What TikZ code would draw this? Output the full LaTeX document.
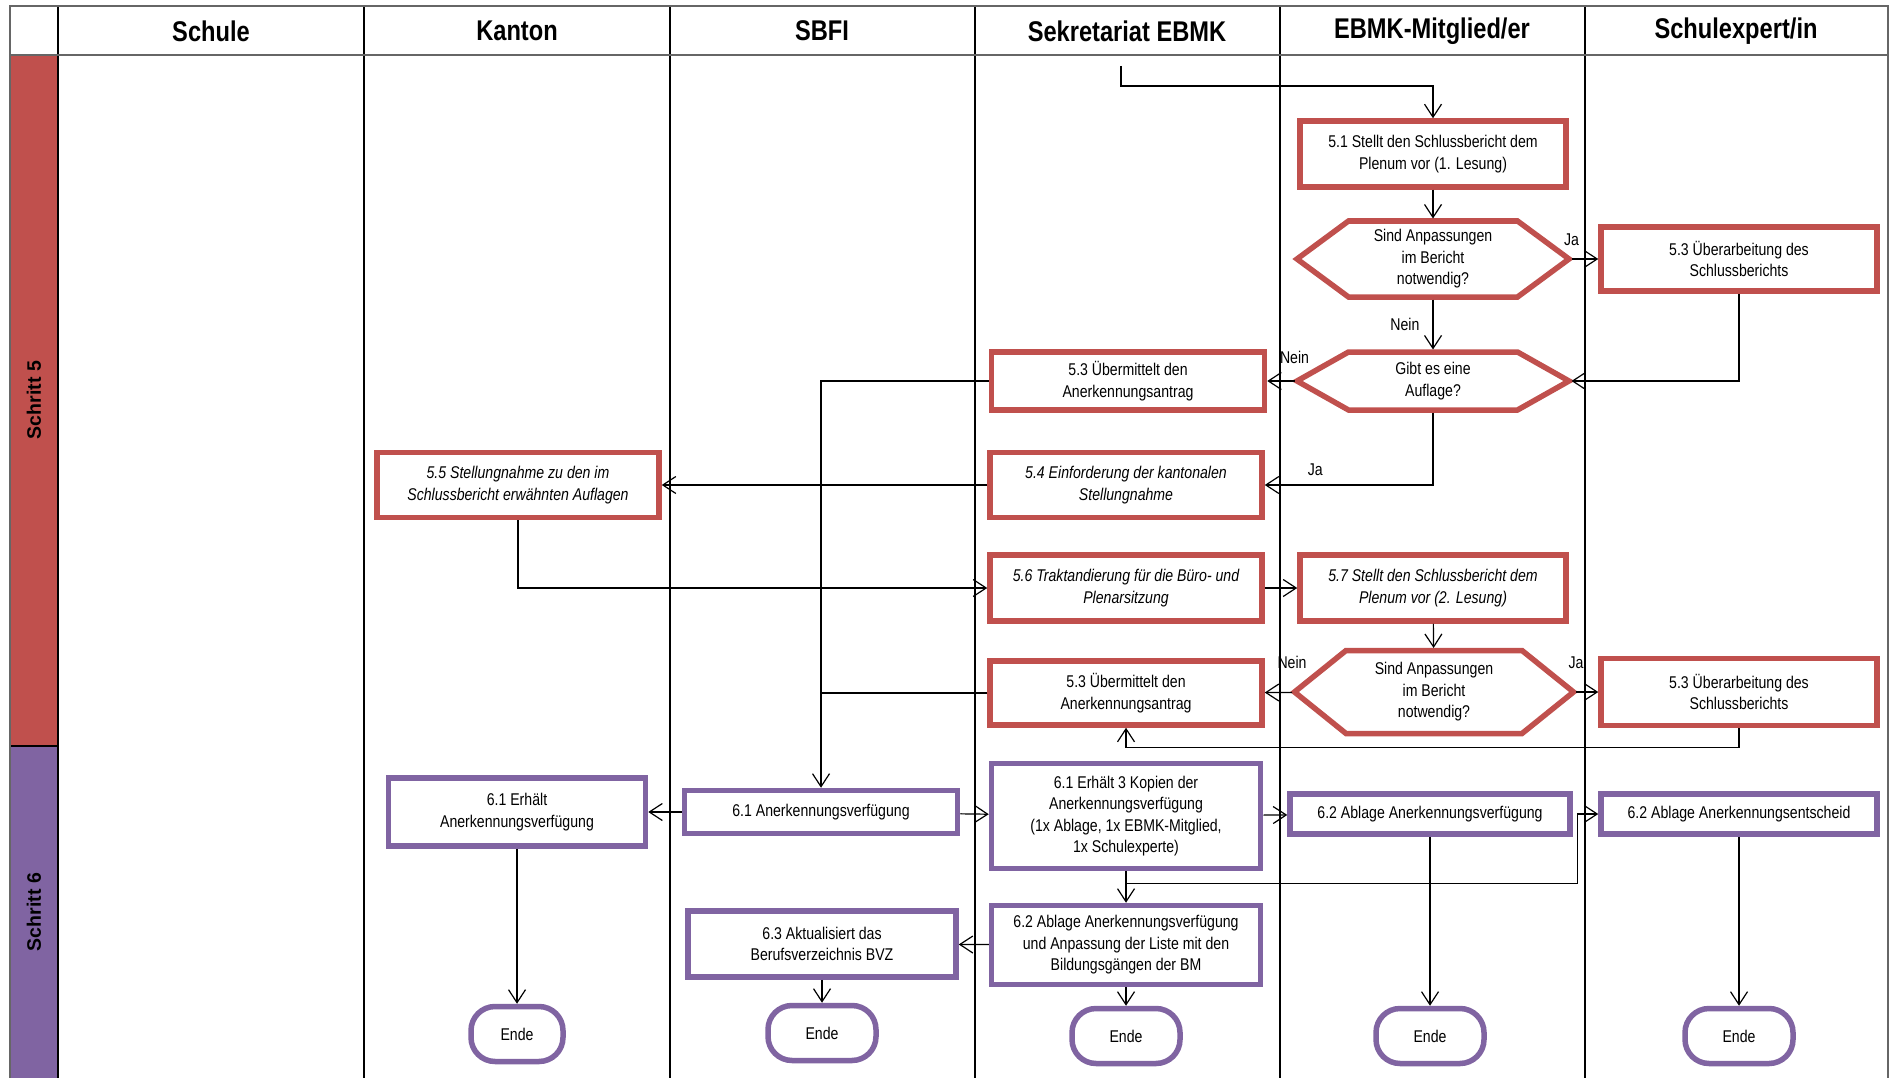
\documentclass[tikz,border=0pt]{standalone}
\usepackage{fontspec}
\setmainfont{Liberation Sans}[FakeStretch=0.83]
\newfontfamily\bandfont{Liberation Sans}
\usetikzlibrary{arrows.meta}
\definecolor{stepred}{HTML}{C0504D}
\definecolor{steppurple}{HTML}{8064A2}

\begin{document}
\begin{tikzpicture}
        [
        x=1pt, y=-1pt,
        every node/.style={font=\fontsize{17}{21.5}\selectfont},
        box/.style={rectangle,line width=5.5pt,fill=white,align=center,inner sep=2pt},
        redbox/.style={box,draw=stepred},
        purplebox/.style={box,draw=steppurple},
        ital/.style={font=\fontsize{17}{21.5}\selectfont\itshape},
        decision/.style={rectangle,align=center,inner sep=0pt,outer sep=0pt},
        hexline/.style={draw=stepred,line width=5.5pt},
        ende/.style={box,draw=steppurple,rounded corners=24pt,minimum height=55pt},
        edge/.style={-{Straight Barb[length=13pt,width=17pt]},line width=1.2pt},
        link/.style={line width=1.2pt},
        lbl/.style={font=\fontsize{17}{20}\selectfont,inner sep=1pt},
        head/.style={font=\fontsize{28.5}{30}\selectfont\bfseries},
        band/.style={font=\bandfont\fontsize{19.5}{22}\selectfont\bfseries,rotate=90}
        ]
    \useasboundingbox (0,0) rectangle (1892,1078);
    \fill[stepred] (10,55) rectangle (58,746);
    \fill[steppurple] (10,746) rectangle (58,1082);
    \foreach \x in {58,364,670,975,1280,1585}
        \draw[line width=1.2pt] (\x,6) -- (\x,1082);
    \draw[line width=1.2pt] (10,746) -- (58,746);
    \draw[line width=2.5pt,black!60] (10,55) -- (1888,55);
    \draw[line width=2.5pt,black!60] (10,6) rectangle (1888,1082);

    \node[head] (h1) at (211,31) {Schule};
    \node[head] (h2) at (517,31) {Kanton};
    \node[head] (h3) at (822,31) {SBFI};
    \node[head] (h4) at (1127,31) {Sekretariat EBMK};
    \node[head] (h5) at (1432,31) {EBMK-Mitglied/er};
    \node[head] (h6) at (1736,31) {Schulexpert/in};
    \node[band] (b5) at (34,400) {Schritt 5};
    \node[band] (b6) at (34,912) {Schritt 6};

    \coordinate (start) at (1121,66);
    \node[redbox,minimum width=266pt,minimum height=66pt] (s51) at (1433,154) {5.1 Stellt den Schlussbericht dem\\Plenum vor (1. Lesung)};
    \node[decision,minimum width=277pt,minimum height=81pt] (d1) at (1433,259) {Sind Anpassungen\\im Bericht\\notwendig?};
    \node[redbox,minimum width=276pt,minimum height=64pt] (ub1) at (1739,259) {5.3 Überarbeitung des\\Schlussberichts};
    \node[decision,minimum width=277pt,minimum height=63pt] (d2) at (1433,381) {Gibt es eine\\Auflage?};
    \node[redbox,minimum width=273pt,minimum height=58pt] (um1) at (1128,381) {5.3 Übermittelt den\\Anerkennungsantrag};
    \node[redbox,ital,minimum width=272pt,minimum height=65pt] (s54) at (1126,485) {5.4 Einforderung der kantonalen\\Stellungnahme};
    \node[redbox,ital,minimum width=282pt,minimum height=65pt] (s55) at (518,485) {5.5 Stellungnahme zu den im\\Schlussbericht erwähnten Auflagen};
    \node[redbox,ital,minimum width=272pt,minimum height=66pt] (s56) at (1126,588) {5.6 Traktandierung für die Büro- und\\Plenarsitzung};
    \node[redbox,ital,minimum width=266pt,minimum height=66pt] (s57) at (1433,588) {5.7 Stellt den Schlussbericht dem\\Plenum vor (2. Lesung)};
    \node[decision,minimum width=284pt,minimum height=88pt] (d3) at (1434,692) {Sind Anpassungen\\im Bericht\\notwendig?};
    \node[redbox,minimum width=272pt,minimum height=64pt] (um2) at (1126,693) {5.3 Übermittelt den\\Anerkennungsantrag};
    \node[redbox,minimum width=276pt,minimum height=67pt] (ub2) at (1739,692) {5.3 Überarbeitung des\\Schlussberichts};

    \node[purplebox,minimum width=257pt,minimum height=68pt] (k61) at (517,812) {6.1 Erhält\\Anerkennungsverfügung};
    \node[purplebox,minimum width=273pt,minimum height=43pt] (v61) at (821,812) {6.1 Anerkennungsverfügung};
    \node[purplebox,minimum width=269pt,minimum height=105pt] (e61) at (1126,816) {6.1 Erhält 3 Kopien der\\Anerkennungsverfügung\\(1x Ablage, 1x EBMK-Mitglied,\\1x Schulexperte)};
    \node[purplebox,minimum width=280pt,minimum height=40pt] (a62) at (1430,814) {6.2 Ablage Anerkennungsverfügung};
    \node[purplebox,minimum width=276pt,minimum height=40pt] (x62) at (1739,814) {6.2 Ablage Anerkennungsentscheid};
    \node[purplebox,minimum width=268pt,minimum height=66pt] (b63) at (822,944) {6.3 Aktualisiert das\\Berufsverzeichnis BVZ};
    \node[purplebox,minimum width=269pt,minimum height=79pt] (s62) at (1126,945) {6.2 Ablage Anerkennungsverfügung\\und Anpassung der Liste mit den\\Bildungsgängen der BM};
    \node[ende,minimum width=92pt] (end1) at (517,1034) {Ende};
    \node[ende,minimum width=108pt] (end2) at (822,1033) {Ende};
    \node[ende,minimum width=108pt] (end3) at (1126,1036) {Ende};
    \node[ende,minimum width=108pt] (end4) at (1430,1036) {Ende};
    \node[ende,minimum width=108pt] (end5) at (1739,1036) {Ende};

    \foreach \d in {d1,d2,d3}
        \draw[hexline] ([xshift=2.5pt]\d.west) -- ([xshift=54pt,yshift=-2.5pt]\d.north west)
            -- ([xshift=-54pt,yshift=-2.5pt]\d.north east) -- ([xshift=-2.5pt]\d.east)
            -- ([xshift=-54pt,yshift=2.5pt]\d.south east) -- ([xshift=54pt,yshift=2.5pt]\d.south west) -- cycle;

    \draw[edge] (start) -- ++(0,20) -| (s51);
    \draw[edge] (s51) -- (d1);
    \draw[edge] (d1) -- node[lbl,pos=0,above=12pt] {Ja} (ub1);
    \draw[edge] (d1) -- node[lbl,left=12pt] {Nein} (d2);
    \draw[edge] (ub1) |- (d2);
    \draw[edge] (d2) -- node[lbl,pos=0,above=16pt] {Nein} (um1);
    \draw[edge] (d2) |- node[lbl,pos=0.85,above=8pt] {Ja} (s54);
    \draw[edge] (s54) -- (s55);
    \draw[edge] (s55) |- (s56);
    \draw[edge] (s56) -- (s57);
    \draw[edge] (s57) -- (d3);
    \draw[edge] (d3) -- node[lbl,pos=0,above=22pt] {Ja} (ub2);
    \draw[edge] (d3) -- node[lbl,pos=0,above=22pt] {Nein} (um2);
    \draw[edge] (ub2.south) |- ([yshift=-20pt]um2.south) -- (um2.south);
    \draw[edge] (um1) -| (v61);
    \draw[link] (um2) -- (um2.west -| v61);
    \draw[edge] (v61) -- (k61);
    \draw[edge] (v61) -- (e61);
    \draw[edge] (e61) -- (a62);
    \draw[edge] (e61) -- (s62);
    \draw[edge] ([yshift=-12pt]e61.south) -| ([xshift=-21pt]x62.west) -- (x62.west);
    \draw[edge] (s62) -- (b63);
    \draw[edge] (k61) -- (end1);
    \draw[edge] (b63) -- (end2);
    \draw[edge] (s62) -- (end3);
    \draw[edge] (a62) -- (end4);
    \draw[edge] (x62) -- (end5);
\end{tikzpicture}
\end{document}
